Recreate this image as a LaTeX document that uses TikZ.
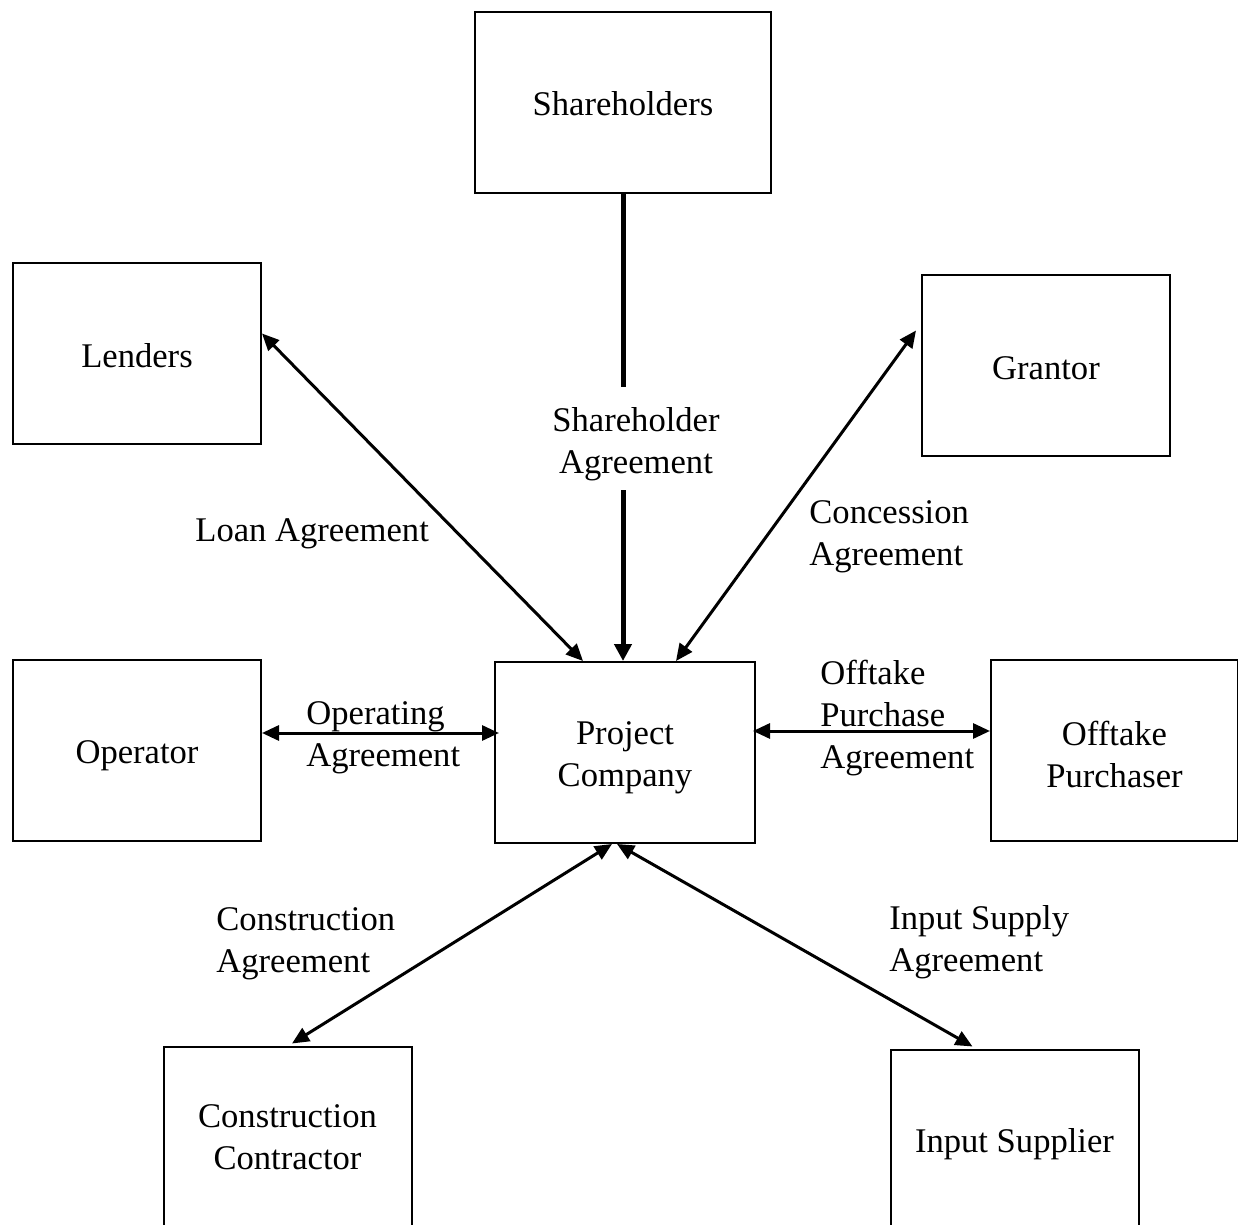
\documentclass[tikz,border=0pt]{standalone}
\usepackage{fontspec}
\setmainfont{Liberation Serif}
\usetikzlibrary{arrows.meta,calc}
\begin{document}
\begin{tikzpicture}[x=0.5pt,y=-0.5pt,
  font=\fontsize{17.3}{20.8}\selectfont,
  box/.style={draw,line width=1pt,minimum width=124pt,minimum height=90.5pt,inner sep=0pt},
  txt/.style={align=center,inner sep=0pt},
  lbl/.style={align=left,inner sep=0pt,anchor=west},
  link/.style={line width=1.5pt,{Triangle[length=8.5pt,width=7.5pt]}-{Triangle[length=8.5pt,width=7.5pt]}},
  tip/.style={-{Triangle[length=8.5pt,width=8.5pt]}}]
\useasboundingbox (0,0) rectangle (1238,1225);
\clip (0,0) rectangle (1238,1225);
\node[box,minimum width=148pt] (sh) at (623,102.5) {};
\node[txt,yshift=-0.5pt] (sht) at (sh) {Shareholders};
\node[box] (len) at (137,353.5) {};
\node[txt,yshift=-1pt] (lent) at (len) {Lenders};
\node[box] (gr) at (1046,365.5) {};
\node[txt,yshift=-1.5pt] (grt) at (gr) {Grantor};
\node[box] (op) at (137,750.5) {};
\node[txt,yshift=-2.75pt] (opt) at (op) {Operator};
\node[box,minimum width=130pt] (pc) at (625,752.5) {};
\node[txt,yshift=-2.5pt] (pct) at (pc) {Project\\Company};
\node[box,minimum width=123.5pt] (ofp) at (1114.5,750.5) {};
\node[txt,yshift=-2pt] (ofpt) at (ofp) {Offtake\\Purchaser};
\node[box] (cc) at (287.5,1137) {};
\node[txt] (cct) at (cc) {Construction\\Contractor};
\node[box] (is) at (1014.5,1140) {};
\node[txt,yshift=-2pt] (ist) at (is) {Input Supplier};
% labels
\node[lbl] (lloan) at (195,534) {Loan Agreement};
\node[txt] (lsh) at (636,444) {Shareholder\\Agreement};
\node[lbl] (lcon) at (809,537) {Concession\\Agreement};
\node[lbl] (lop) at (306,738) {Operating\\Agreement};
\node[lbl] (loff) at (820,718) {Offtake\\Purchase\\Agreement};
\node[lbl] (lcons) at (216,944) {Construction\\Agreement};
\node[lbl] (linp) at (889,942) {Input Supply\\Agreement};
% connectors
\coordinate (shgap1) at (623,387);
\coordinate (shgap2) at (623,490);
\draw[line width=2.5pt] (sh.south) -- (shgap1);
\draw[line width=2.5pt,tip] (shgap2) -- ([xshift=-1pt]pc.north);
\draw[link] ([yshift=10pt]len.east) -- ([xshift=-21pt]pc.north);
\draw[link] ([xshift=25.5pt]pc.north) -- ([xshift=-2.5pt,yshift=17.5pt]gr.west);
\draw[link] ([yshift=8.75pt]op.east) -- ([xshift=2.5pt,yshift=9.75pt]pc.west);
\draw[link] ([xshift=-1.5pt,yshift=10.75pt]pc.east) -- ([yshift=9.75pt]ofp.west);
\draw[link] ([xshift=2.25pt,yshift=1pt]cc.north) -- ([xshift=-6.5pt]pc.south);
\draw[link] ([xshift=-4pt]pc.south) -- ([xshift=-21pt,yshift=1pt]is.north);
\end{tikzpicture}
\end{document}
